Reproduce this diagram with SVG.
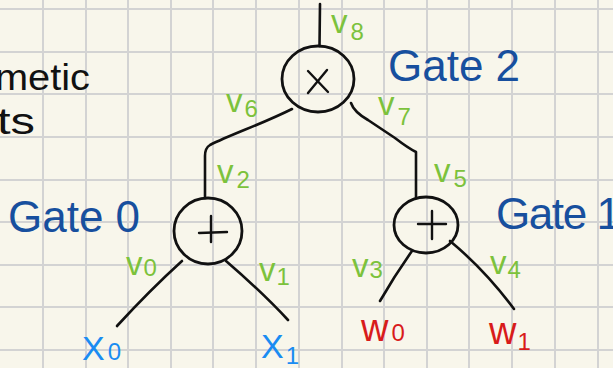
<svg xmlns="http://www.w3.org/2000/svg" width="613" height="368" viewBox="0 0 613 368">
<style>
.grid line{stroke:#d3d3d3;stroke-width:2}
.wire{fill:none;stroke:#111;stroke-width:2.6;stroke-linecap:round;stroke-linejoin:round}
.gate{fill:none;stroke:#111;stroke-width:2.8}
.op{stroke:#111;stroke-width:2.4;stroke-linecap:round}
.lbl{font-family:"Liberation Sans",Arial,sans-serif;fill:#7cc23c;font-size:33px}
.lbl tspan{font-size:24px}
.gname{font-family:"Liberation Sans",Arial,sans-serif;fill:#174f9e;font-size:44px}
.xin{font-family:"Liberation Sans",Arial,sans-serif;fill:#1a8cf2;font-size:34px}
.win{font-family:"Liberation Sans",Arial,sans-serif;fill:#d81b1b;font-size:38px}
.xin tspan,.win tspan{font-size:24px}
.note{font-family:"Liberation Sans",Arial,sans-serif;fill:#111;font-size:36px}
</style>
<rect width="613" height="368" fill="#f8f6eb"/>
<g class="grid">
<line x1="43" y1="0" x2="43" y2="368"/><line x1="86" y1="0" x2="86" y2="368"/><line x1="128" y1="0" x2="128" y2="368"/><line x1="171" y1="0" x2="171" y2="368"/><line x1="213" y1="0" x2="213" y2="368"/><line x1="256" y1="0" x2="256" y2="368"/><line x1="299" y1="0" x2="299" y2="368"/><line x1="342" y1="0" x2="342" y2="368"/><line x1="384" y1="0" x2="384" y2="368"/><line x1="427" y1="0" x2="427" y2="368"/><line x1="469" y1="0" x2="469" y2="368"/><line x1="512" y1="0" x2="512" y2="368"/><line x1="555" y1="0" x2="555" y2="368"/><line x1="598" y1="0" x2="598" y2="368"/>
<line x1="0" y1="9" x2="613" y2="9"/><line x1="0" y1="52" x2="613" y2="52"/><line x1="0" y1="94" x2="613" y2="94"/><line x1="0" y1="137" x2="613" y2="137"/><line x1="0" y1="180" x2="613" y2="180"/><line x1="0" y1="222" x2="613" y2="222"/><line x1="0" y1="265" x2="613" y2="265"/><line x1="0" y1="307" x2="613" y2="307"/><line x1="0" y1="350" x2="613" y2="350"/>
</g>
<g id="notes">
<text class="note" x="-5" y="90" textLength="95" lengthAdjust="spacingAndGlyphs">metic</text>
<text class="note" x="-3" y="134" textLength="38" lengthAdjust="spacingAndGlyphs">ts</text>
</g>
<g id="connectors">
<path class="wire" d="M320,4 L319.5,46"/>
<path class="wire" d="M292,109 C262,124 232,134 210,145 Q205,148 205,156 L205,198"/>
<path class="wire" d="M351,103 Q354,112 368,120 L395,138 Q408,148 416,152 L416,198"/>
<path class="wire" d="M182,261 Q150,290 117,326"/>
<path class="wire" d="M226,261 Q262,292 288,320"/>
<path class="wire" d="M412,251 Q395,275 380,301"/>
<path class="wire" d="M450,241 Q485,270 514,309"/>
</g>
<g id="edge-labels">
<text class="lbl" x="331" y="33">v<tspan dx="3" dy="7">8</tspan></text>
<text class="lbl" x="226" y="112">v<tspan dx="2" dy="5">6</tspan></text>
<text class="lbl" x="378" y="115">v<tspan dx="3" dy="10">7</tspan></text>
<text class="lbl" x="217" y="183">v<tspan dx="3" dy="5">2</tspan></text>
<text class="lbl" x="434" y="182">v<tspan dx="3" dy="5">5</tspan></text>
<text class="lbl" x="126" y="275">v<tspan dx="1" dy="1">0</tspan></text>
<text class="lbl" x="259" y="281">v<tspan dx="1" dy="4">1</tspan></text>
<text class="lbl" x="352" y="277">v<tspan dx="1" dy="1">3</tspan></text>
<text class="lbl" x="490" y="274">v<tspan dx="1" dy="4">4</tspan></text>
</g>
<g id="gate2">
<ellipse class="gate" cx="318" cy="79" rx="36" ry="33"/>
<line class="op" x1="308" y1="71" x2="328" y2="92"/>
<line class="op" x1="327" y1="70" x2="308" y2="93"/>
<text class="gname" x="388" y="81">Gate 2</text>
</g>
<g id="gate0">
<ellipse class="gate" cx="208" cy="231" rx="34" ry="33"/>
<line class="op" x1="199" y1="233" x2="227" y2="232"/>
<line class="op" x1="211" y1="216" x2="211" y2="242"/>
<text class="gname" x="8" y="232">Gate 0</text>
</g>
<g id="gate1">
<ellipse class="gate" cx="426" cy="225" rx="32" ry="28"/>
<line class="op" x1="418" y1="224" x2="446" y2="224"/>
<line class="op" x1="432" y1="211" x2="432" y2="239"/>
<text class="gname" x="496" y="229" textLength="125" lengthAdjust="spacing">Gate 1</text>
</g>
<g id="x0"><text class="xin" x="82" y="360">X<tspan dx="3" dy="0">0</tspan></text></g>
<g id="x1"><text class="xin" x="261" y="358">X<tspan dx="2" dy="6">1</tspan></text></g>
<g id="w0"><text class="win" x="361" y="341">w<tspan dx="3">0</tspan></text></g>
<g id="w1"><text class="win" x="489" y="344">w<tspan dx="1" dy="6">1</tspan></text></g>
</svg>
